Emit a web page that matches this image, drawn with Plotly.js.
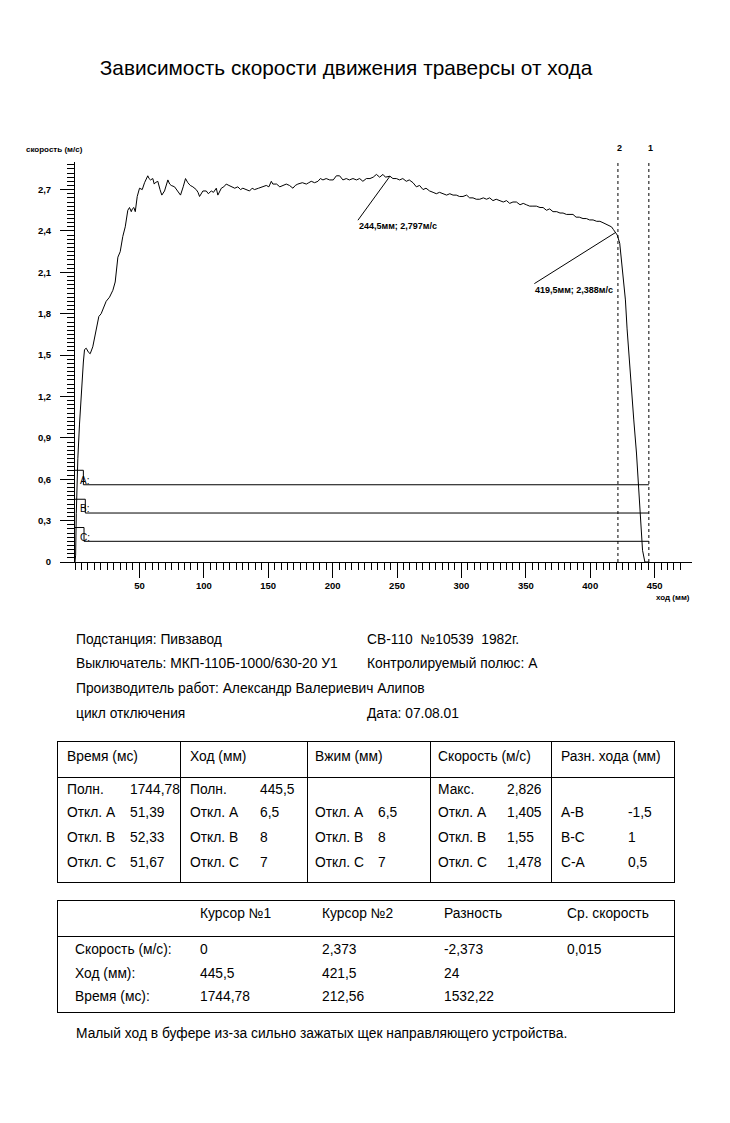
<!DOCTYPE html>
<html lang="ru">
<head>
    <meta charset="UTF-8">
    <meta name="viewport" content="width=device-width, initial-scale=1.0">
    <title>Зависимость скорости движения траверсы от хода</title>
    <script src="https://cdn.plot.ly/plotly-3.0.1.min.js"></script>
    <style>
        body {
            margin: 0;
            background: #fff;
            font-family: 'Liberation Sans', Arial, sans-serif;
            color: #000;
        }
        #page {
            position: relative;
            width: 730px;
            height: 1123px;
        }
        #plot {
            position: absolute;
            left: 0;
            top: 0;
            width: 730px;
            height: 620px;
        }
        .t {
            position: absolute;
            font-size: 13.8px;
            line-height: 16px;
            white-space: pre;
            transform: translateY(-50%);
        }
        .box {
            position: absolute;
            border: 1px solid #000;
            box-sizing: border-box;
        }
        .hl { position: absolute; height: 1px; background: #000; }
        .vl { position: absolute; width: 1px; background: #000; }
    </style>
</head>
<body>
<div id="page">
    <div id="plot"></div>
</div>

<script>
    // ход (мм) / скорость (м/с)
    const hod = [0, 0.5, 1.0, 1.5, 2.2, 3.5, 5.3, 6.5, 7.4, 8.7, 10.5, 11.8, 13.8, 15.5, 16.9, 18.5, 20.3, 22.0, 24.2, 26.8,
        29.4, 31.2, 33.3, 35.1, 37.1, 39.0, 41.0, 42.3, 43.7, 44.5, 45.7, 46.8, 48.3, 50.1, 52.2, 54.0, 56.5, 57.5, 58.6, 60.4,
        61.5, 62.3, 64.3, 66.0, 67.4, 69.5, 72.1, 73.5, 74.7, 77.3, 79.8, 81.9, 84.0, 85.8, 87.6, 89.5, 91.5, 94.1, 95.5, 96.7,
        99.3, 101.9, 103.5, 105.8, 107.5, 109.7, 110.9, 113.6, 115.5, 117.4, 119.5, 121.3, 124.0, 126.4, 128.5, 130.3, 133.0, 135.5, 137.5, 139.4,
        142.5, 145.9, 148.5, 150.5, 152.4, 153.6, 156.5, 159.0, 161.4, 164.0, 166.5, 169.2, 171.0, 173.0, 176.5, 179.6, 181.5, 183.4, 186.0, 188.6,
        190.5, 192.5, 195.0, 197.7, 200.5, 202.9, 205.4, 208.0, 210.6, 213.0, 215.8, 218.5, 221.0, 223.5, 226.2, 229.0, 231.5, 234.0, 236.5, 239.1,
        241.0, 244.5, 246.8, 249.5, 252.0, 254.5, 257.2, 259.5, 262.4, 265.0, 267.5, 270.2, 272.5, 275.3, 278.0, 280.5, 283.0, 285.7, 288.5, 291.0,
        293.5, 296.0, 298.5, 301.2, 304.0, 306.4, 309.0, 311.5, 314.2, 317.0, 319.5, 321.9, 324.5, 327.0, 329.7, 332.5, 335.0, 337.5, 340.0, 342.7,
        345.5, 348.0, 350.4, 353.0, 355.5, 358.2, 361.0, 363.4, 366.0, 368.5, 371.1, 374.0, 376.5, 378.9, 381.5, 384.0, 386.6, 389.0, 391.5, 394.4,
        397.0, 399.5, 402.2, 405.0, 407.5, 409.9, 412.5, 414.5, 416.5, 418.0, 419.5, 421.0, 422.9, 425.5, 427.3, 428.6, 431.0, 433.8, 435.9, 437.2,
        439.0, 440.6, 442.4, 445.5];
    const skorost = [0, 0.05, 0.35, 0.6, 0.75, 1.0, 1.30, 1.45, 1.54, 1.55, 1.52, 1.51, 1.56, 1.64, 1.72, 1.78, 1.80, 1.84, 1.89, 1.92,
        1.97, 2.03, 2.21, 2.25, 2.36, 2.43, 2.55, 2.57, 2.54, 2.56, 2.57, 2.54, 2.65, 2.71, 2.70, 2.75, 2.80, 2.78, 2.77, 2.78,
        2.74, 2.75, 2.76, 2.70, 2.66, 2.69, 2.77, 2.74, 2.73, 2.72, 2.69, 2.66, 2.72, 2.78, 2.75, 2.73, 2.72, 2.70, 2.68, 2.65,
        2.69, 2.69, 2.67, 2.69, 2.68, 2.71, 2.66, 2.71, 2.72, 2.74, 2.73, 2.72, 2.71, 2.72, 2.70, 2.71, 2.70, 2.69, 2.71, 2.70,
        2.71, 2.72, 2.73, 2.72, 2.76, 2.74, 2.74, 2.72, 2.73, 2.74, 2.73, 2.71, 2.73, 2.74, 2.75, 2.74, 2.75, 2.76, 2.75, 2.76,
        2.78, 2.77, 2.78, 2.77, 2.77, 2.80, 2.80, 2.77, 2.78, 2.77, 2.78, 2.77, 2.78, 2.76, 2.78, 2.78, 2.79, 2.81, 2.79, 2.81,
        2.79, 2.797, 2.78, 2.78, 2.77, 2.78, 2.76, 2.77, 2.75, 2.72, 2.73, 2.70, 2.71, 2.69, 2.68, 2.67, 2.68, 2.67, 2.66, 2.67,
        2.66, 2.66, 2.65, 2.65, 2.66, 2.64, 2.64, 2.63, 2.63, 2.64, 2.63, 2.64, 2.62, 2.63, 2.62, 2.61, 2.62, 2.60, 2.61, 2.61,
        2.59, 2.60, 2.59, 2.58, 2.58, 2.58, 2.57, 2.57, 2.55, 2.56, 2.54, 2.54, 2.53, 2.53, 2.52, 2.52, 2.52, 2.50, 2.50, 2.49,
        2.49, 2.48, 2.48, 2.47, 2.47, 2.46, 2.45, 2.44, 2.43, 2.41, 2.388, 2.37, 2.31, 2.05, 1.90, 1.69, 1.35, 1.03, 0.79, 0.57,
        0.35, 0.085, 0, 0];

    // контакты A, B, C: момент отключения (мм) и уровень линии на графике
    const contactNames = ['A:', 'B:', 'C:'];
    const contactHod = [6.5, 8, 7];
    const contactLevel = [0.56, 0.355, 0.15];
    const contactTop = [0.665, 0.455, 0.25];

    // курсоры
    const cursorNames = ['1', '2'];
    const cursorHod = [445.5, 421.5];

    // отмеченные точки
    const markHod = [244.5, 419.5];
    const markSkorost = [2.797, 2.388];
    const markText = ['244,5мм; 2,797м/с', '419,5мм; 2,388м/с'];

    const xTicks = [50, 100, 150, 200, 250, 300, 350, 400, 450];
    const yTicks = [0, 0.3, 0.6, 0.9, 1.2, 1.5, 1.8, 2.1, 2.4, 2.7];

    // текст под графиком
    const infoLeft = ['Подстанция: Пивзавод', 'Выключатель: МКП-110Б-1000/630-20 У1',
        'Производитель работ: Александр Валериевич Алипов', 'цикл отключения'];
    const infoRight = ['СВ-110  №10539  1982г.', 'Контролируемый полюс: А', '', 'Дата: 07.08.01'];

    const t1Head = ['Время (мс)', 'Ход (мм)', 'Вжим (мм)', 'Скорость (м/с)', 'Разн. хода (мм)'];
    const t1Labels = [
        ['Полн.', 'Откл. А', 'Откл. В', 'Откл. С'],
        ['Полн.', 'Откл. А', 'Откл. В', 'Откл. С'],
        ['', 'Откл. А', 'Откл. В', 'Откл. С'],
        ['Макс.', 'Откл. А', 'Откл. В', 'Откл. С'],
        ['', 'А-В', 'В-С', 'С-А']
    ];
    const t1Values = [
        ['1744,78', '51,39', '52,33', '51,67'],
        ['445,5', '6,5', '8', '7'],
        ['', '6,5', '8', '7'],
        ['2,826', '1,405', '1,55', '1,478'],
        ['', '-1,5', '1', '0,5']
    ];

    const t2Head = ['Курсор №1', 'Курсор №2', 'Разность', 'Ср. скорость'];
    const t2Rows = ['Скорость (м/с):', 'Ход (мм):', 'Время (мс):'];
    const t2Values = [
        ['0', '2,373', '-2,373', '0,015'],
        ['445,5', '421,5', '24', ''],
        ['1744,78', '212,56', '1532,22', '']
    ];
    const note = 'Малый ход в буфере из-за сильно зажатых щек направляющего устройства.';

    function createPlot() {
        const bold8 = { family: 'Liberation Sans, Arial, sans-serif', size: 8, color: '#000', weight: 'bold' };
        const bold9 = { family: 'Liberation Sans, Arial, sans-serif', size: 9, color: '#000', weight: 'bold' };
        const traces = [{
            x: hod,
            y: skorost,
            type: 'scatter',
            mode: 'lines',
            line: { color: '#000', width: 1 },
            hoverinfo: 'skip'
        }];

        // ступеньки A, B, C и горизонтальные линии до курсора 1
        for (let i = 0; i < contactNames.length; i++) {
            traces.push({
                x: [0, contactHod[i], contactHod[i], cursorHod[0]],
                y: [contactTop[i], contactTop[i], contactLevel[i], contactLevel[i]],
                type: 'scatter',
                mode: 'lines',
                line: { color: '#000', width: 1 },
                hoverinfo: 'skip'
            });
        }

        const minorX = [];
        for (let v = 0; v <= 470; v += 5) minorX.push(v);

        const shapes = cursorHod.map(c => ({
            type: 'line', xref: 'x', yref: 'paper',
            x0: c, x1: c, y0: 0, y1: 1,
            line: { color: '#000', width: 1, dash: '3px,3px' }
        }));

        const annotations = [];
        contactNames.forEach((n, i) => annotations.push({
            x: 2.5, y: contactLevel[i] + 0.03, xref: 'x', yref: 'y',
            text: n, showarrow: false, xanchor: 'left', yanchor: 'middle',
            font: { family: 'Liberation Sans, Arial, sans-serif', size: 10, color: '#000' }
        }));
        cursorNames.forEach((n, i) => annotations.push({
            x: cursorHod[i], y: 1, xref: 'x', yref: 'paper', yshift: 14, xshift: 2,
            text: n, showarrow: false, xanchor: 'center', yanchor: 'middle', font: bold9
        }));
        const tails = [[-32, 44], [-81, 51]];
        markText.forEach((t, i) => annotations.push({
            x: markHod[i], y: markSkorost[i], xref: 'x', yref: 'y',
            text: t, showarrow: true, arrowhead: 0, arrowwidth: 1, arrowcolor: '#000',
            ax: tails[i][0], ay: tails[i][1], xanchor: 'left', yanchor: 'top',
            borderpad: 0, font: bold9
        }));
        annotations.push({
            x: 0, y: 1, xref: 'paper', yref: 'paper', xshift: -51, yshift: 13,
            text: 'скорость (м/с)', showarrow: false, xanchor: 'left', yanchor: 'middle', font: bold8
        });
        annotations.push({
            x: 1, y: 0, xref: 'paper', yref: 'paper', yshift: -35,
            text: 'ход (мм)', showarrow: false, xanchor: 'right', yanchor: 'middle', font: bold8
        });

        const tickFont = { family: 'Liberation Sans, Arial, sans-serif', size: 9.5, color: '#000', weight: 'bold' };
        const layout = {
            width: 730,
            height: 620,
            separators: ', ',
            title: {
                text: 'Зависимость скорости движения траверсы от хода',
                xref: 'container', yref: 'container',
                x: 0.474, y: 0.891, xanchor: 'center', yanchor: 'middle',
                font: { family: 'Liberation Sans, Arial, sans-serif', size: 20.8, color: '#000' }
            },
            xaxis: {
                range: [0, 479],
                tickmode: 'array',
                tickvals: xTicks,
                ticks: 'outside',
                ticklen: 15,
                tickwidth: 1,
                tickcolor: '#000',
                tickfont: tickFont,
                showline: true,
                linecolor: '#000',
                linewidth: 1,
                showgrid: false,
                zeroline: false,
                minor: { tickmode: 'array', tickvals: minorX, ticks: 'outside', ticklen: 7, tickcolor: '#000', showgrid: false },
                fixedrange: true
            },
            yaxis: {
                range: [0, 2.9],
                tickmode: 'array',
                tickvals: yTicks,
                ticks: 'outside',
                ticklen: 14,
                tickwidth: 1,
                tickcolor: '#000',
                tickfont: tickFont,
                ticklabelstandoff: 7,
                showline: true,
                linecolor: '#000',
                linewidth: 1,
                showgrid: false,
                zeroline: false,
                minor: { dtick: 0.03, tick0: 0, ticks: 'outside', ticklen: 7, tickcolor: '#000', showgrid: false },
                fixedrange: true
            },
            shapes: shapes,
            annotations: annotations,
            showlegend: false,
            plot_bgcolor: '#fff',
            paper_bgcolor: '#fff',
            margin: { l: 75, r: 38, t: 162, b: 58 }
        };

        Plotly.newPlot('plot', traces, layout, { staticPlot: true, displayModeBar: false });
    }

    // ---- текстовая часть ----
    const page = document.getElementById('page');

    function put(x, y, s) {
        if (!s) return;
        const d = document.createElement('div');
        d.className = 't';
        d.style.left = x + 'px';
        d.style.top = y + 'px';
        d.textContent = s;
        page.appendChild(d);
    }
    function el(cls, l, t, w, h) {
        const d = document.createElement('div');
        d.className = cls;
        d.style.left = l + 'px';
        d.style.top = t + 'px';
        if (w != null) d.style.width = w + 'px';
        if (h != null) d.style.height = h + 'px';
        page.appendChild(d);
    }

    function drawInfo() {
        const rowsY = [640, 664, 689, 714];
        rowsY.forEach((y, i) => {
            put(76, y, infoLeft[i]);
            put(367, y, infoRight[i]);
        });
    }

    function drawTable1() {
        el('box', 57, 741, 618, 142);
        el('hl', 57, 777, 618);
        const colLines = [180, 307, 430, 551];
        colLines.forEach(x => el('vl', x, 741, null, 142));
        const headX = [67, 190, 315, 438, 561];
        const valX = [130, 260, 378, 507, 628];
        const rowY = [790, 813, 838, 863];
        t1Head.forEach((h, c) => {
            put(headX[c], 757, h);
            rowY.forEach((y, r) => {
                put(headX[c], y, t1Labels[c][r]);
                put(valX[c], y, t1Values[c][r]);
            });
        });
    }

    function drawTable2() {
        el('box', 57, 900, 618, 113);
        el('hl', 57, 936, 618);
        const colX = [200, 322, 444, 567];
        const rowY = [950, 974, 997];
        t2Head.forEach((h, c) => put(colX[c], 914, h));
        t2Rows.forEach((r, i) => {
            put(75, rowY[i], r);
            t2Values[i].forEach((v, c) => put(colX[c], rowY[i], v));
        });
    }

    createPlot();
    drawInfo();
    drawTable1();
    drawTable2();
    put(76, 1034, note);
</script>
</body>
</html>
